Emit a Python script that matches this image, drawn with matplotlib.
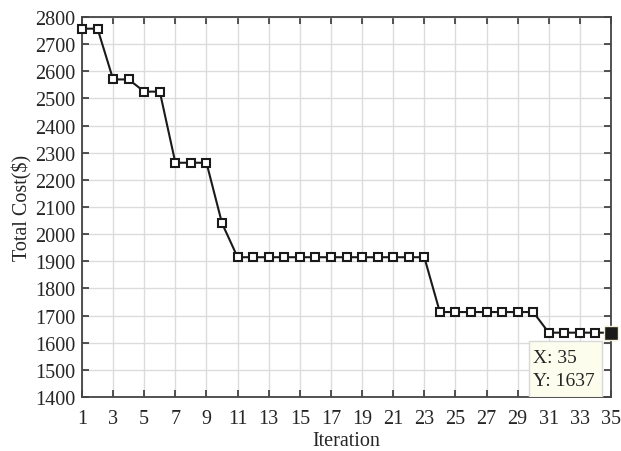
import matplotlib

matplotlib.use("Agg")
import matplotlib.pyplot as plt
from matplotlib.patches import Rectangle
import numpy as np

iteration = np.arange(1, 36)
total_cost = [2757, 2757, 2570, 2570, 2525, 2525, 2263, 2263, 2263, 2040,
              1915, 1915, 1915, 1915, 1915, 1915, 1915, 1915, 1915, 1915,
              1915, 1915, 1915, 1713, 1713, 1713, 1713, 1713, 1713, 1713,
              1637, 1637, 1637, 1637, 1637]
x_ticks = list(range(1, 36, 2))
y_ticks = list(range(1400, 2801, 100))

plt.rcParams["font.family"] = ["Liberation Serif", "DejaVu Serif"]
plt.rcParams["font.size"] = 14.5

fig = plt.figure(figsize=(6.21, 4.52), dpi=100)
ax = fig.add_axes([82 / 621, 1 - 398 / 452, (611 - 82) / 621, (398 - 18) / 452])

ax.plot(iteration, total_cost, color="#1a1a1a", lw=1.5, marker="s", ms=5.5,
        mfc="white", mec="#1a1a1a", mew=1.5, zorder=3, clip_on=False)
ax.plot(iteration[-1], total_cost[-1], marker="s", ms=10, mfc="#1a1a1a",
        mec="#f4f0d8", mew=1, ls="none", zorder=4, clip_on=False)

ax.set_xlim(1, 35)
ax.set_ylim(1400, 2800)
ax.set_xticks(x_ticks)
ax.set_yticks(y_ticks)
ax.grid(True, color="#dcdcdc", lw=1)
ax.set_axisbelow(True)
ax.tick_params(direction="in", top=True, right=True, length=5, width=1.3,
               color="#444444", labelcolor="#262626")
ax.tick_params(axis="x", pad=9)
ax.tick_params(axis="y", pad=5)
for s in ax.spines.values():
    s.set_color("#444444")
    s.set_linewidth(1.3)

ax.set_xlabel("Iteration", color="#262626", labelpad=2)
ax.set_ylabel("Total Cost($)", color="#262626", labelpad=2)

# data tip
ax.add_patch(Rectangle((0.845, 0.0), 0.138, 0.147, transform=ax.transAxes,
                       fc="#fdfdee", ec="#d8d8d8", lw=1, zorder=5))
ax.text(0.853, 0.127, f"X: {iteration[-1]}\nY: {total_cost[-1]}",
        transform=ax.transAxes, va="top", ha="left", fontsize=14,
        color="#262626", linespacing=1.45, zorder=6)

fig.savefig("out.png", dpi=100)
